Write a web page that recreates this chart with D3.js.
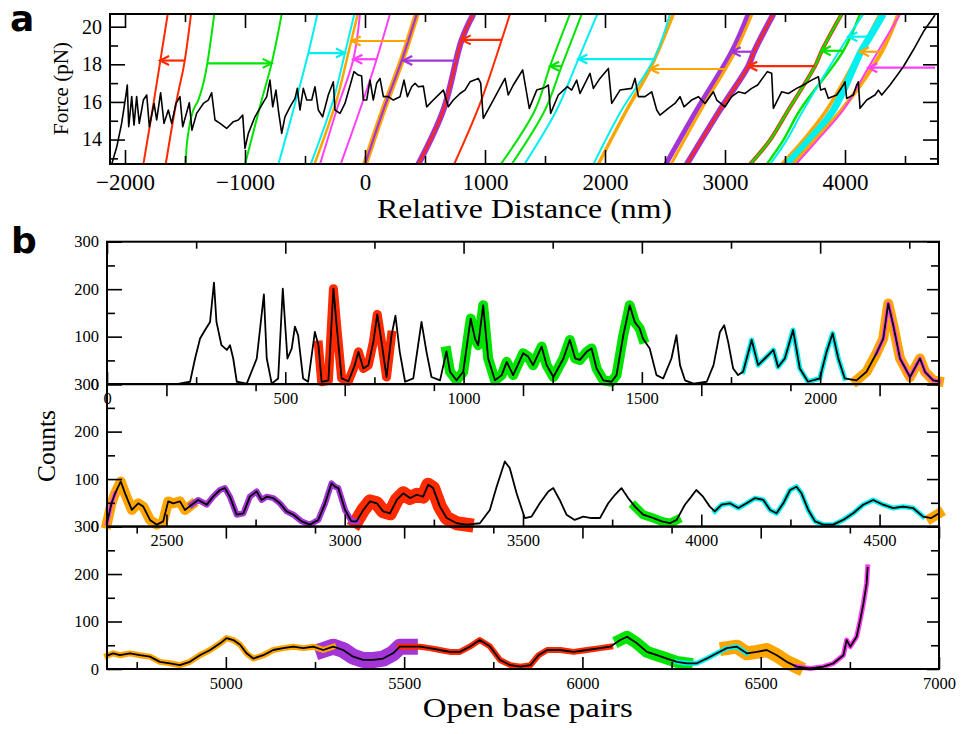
<!DOCTYPE html>
<html>
<head>
<meta charset="utf-8">
<script src="https://cdn.jsdelivr.net/npm/d3@7"></script>
<style>
    html, body { margin: 0; padding: 0; background: #fff; }
</style>
</head>
<body>
<svg id="chart" width="962" height="734"></svg>
<script>
// ---- panel a: force vs relative distance ----
// [distance nm, force pN]
var forceTrace = [[-2111,12.68],[-2069,13.6],[-2028,14.86],[-1992,16.37],[-1981,16.9],[-1969,14.68],[-1944,16.28],[-1925,14.77],[-1903,16.28],[-1881,14.86],[-1847,16.1],[-1819,16.37],[-1797,14.68],[-1758,15.92],[-1736,15.04],[-1703,16.49],[-1675,14.86],[-1639,15.57],[-1611,14.86],[-1575,15.92],[-1542,16.28],[-1519,14.68],[-1464,15.96],[-1442,14.5],[-1403,15.39],[-1347,15.92],[-1306,16.1],[-1278,16.49],[-1250,15.04],[-1208,14.86],[-1153,14.59],[-1097,14.95],[-1056,15.04],[-1019,15.3],[-1000,13.53],[-972,14.33],[-917,15.21],[-861,15.83],[-819,16.28],[-792,17.16],[-769,15.74],[-742,16.63],[-722,15.57],[-694,14.33],[-667,15.21],[-625,15.74],[-583,16.19],[-564,16.72],[-542,15.57],[-514,16.72],[-486,16.1],[-444,16.1],[-417,16.81],[-389,15.57],[-353,15.21],[-306,16.37],[-264,17.07],[-250,15.57],[-208,15.39],[-167,15.92],[-119,16.99],[-92,17.61],[-56,17.43],[-28,17.38],[-14,16.1],[14,16.1],[42,17.16],[69,16.1],[97,16.99],[125,17.25],[153,16.28],[194,16.28],[236,16.1],[292,16.28],[325,17.16],[353,16.28],[389,16.81],[417,16.99],[444,16.81],[486,16.84],[514,15.74],[569,16.1],[653,16.63],[694,15.74],[736,16.1],[792,16.45],[833,16.63],[875,17.07],[944,17.25],[964,17.0],[986,15.12],[1069,16.1],[1167,17.25],[1194,16.37],[1236,16.9],[1314,17.7],[1369,15.66],[1431,16.63],[1500,16.77],[1528,16.9],[1547,15.39],[1611,16.37],[1686,16.81],[1722,16.63],[1764,17.16],[1792,16.45],[1875,17.52],[1903,16.72],[1958,17.25],[2028,17.78],[2056,15.92],[2125,16.63],[2222,16.72],[2250,17.25],[2278,16.28],[2333,16.28],[2389,16.54],[2431,15.57],[2458,15.3],[2528,15.66],[2583,15.92],[2625,16.28],[2658,15.74],[2722,16.1],[2778,16.28],[2833,15.92],[2903,16.54],[2931,16.1],[3000,15.74],[3056,16.28],[3111,16.54],[3167,16.45],[3222,16.72],[3272,16.9],[3353,17.61],[3389,17.52],[3403,15.66],[3472,16.54],[3528,16.45],[3597,16.72],[3653,16.9],[3722,17.16],[3778,17.34],[3797,16.63],[3833,16.72],[3861,16.19],[3931,16.37],[3986,16.9],[4000,17.07],[4014,16.19],[4069,16.37],[4097,16.9],[4111,17.07],[4125,15.66],[4181,16.1],[4250,16.37],[4278,16.63],[4306,16.37],[4375,16.9],[4486,17.87],[4569,18.76],[4653,19.73],[4750,20.62]];

// stretching curves, each [distance nm, force pN]
var stretchCurves = [
    [[-1847,12.68],[-1758,16.1],[-1644,20.67]],
    [[-1661,12.68],[-1569,16.1],[-1506,18.05],[-1450,20.67]],
    [[-1494,12.68],[-1481,13.97],[-1431,15.57],[-1389,16.1],[-1347,16.99],[-1314,18.05],[-1256,20.67]],
    [[-1000,12.68],[-861,16.1],[-778,18.05],[-694,20.67]],
    [[-722,12.68],[-597,15.57],[-472,18.6],[-397,20.67]],
    [[-453,12.68],[-264,16.1],[-167,18.6],[-89,20.67]],
    [[-422,12.68],[-236,16.1],[-139,18.6],[-61,20.67]],
    [[-375,12.68],[-236,15.57],[-97,18.27],[-42,20.67]],
    [[-203,12.68],[-14,16.1],[97,18.27],[208,20.67]],
    [[0,12.68],[153,15.57],[306,18.2],[431,20.67]],
    [[444,12.68],[653,15.57],[806,19.3],[903,20.67]],
    [[742,12.68],[958,15.9],[1139,19.3],[1208,20.67]],
    [[1131,12.68],[1417,15.57],[1542,17.9],[1708,20.67]],
    [[1222,12.68],[1500,15.57],[1639,17.9],[1806,20.67]],
    [[1328,12.68],[1597,15.57],[1778,18.28],[1936,20.67]],
    [[1944,12.68],[2181,15.57],[2375,17.75],[2569,20.67]],
    [[1903,12.68],[2139,15.57],[2408,18.28],[2542,20.67]],
    [[2506,12.68],[2764,15.57],[3056,18.67],[3194,20.67]],
    [[2550,12.68],[2800,15.57],[3085,18.67],[3225,20.67]],
    [[2681,12.68],[2958,15.57],[3194,17.9],[3242,18.67],[3403,20.67]],
    [[3208,12.68],[3375,13.97],[3528,15.57],[3750,17.9],[3806,18.72],[3972,20.67]],
    [[3347,12.68],[3486,13.97],[3625,15.57],[3986,18.72],[4125,20.67]],
    [[3375,12.68],[3514,13.97],[3653,15.57],[4028,19.47],[4153,20.67]],
    [[3472,12.68],[3653,13.97],[3847,15.57],[4125,18.67],[4292,20.67]],
    [[3514,12.68],[3700,13.97],[3903,15.57],[4133,18.67],[4208,19.47],[4319,20.67]],
    [[3569,12.68],[3750,13.97],[3972,15.57],[4306,18.67],[4444,20.67]],
    [[3590,12.68],[3770,13.97],[3985,15.57],[4194,17.82],[4460,20.67]]
];

// arrows: force level, start distance, end distance
var arrowForce = [18.2, 18.05, 18.6, 19.24, 18.27, 18.2, 19.3, 17.9, 18.28, 17.75, 18.67, 17.9, 18.72, 19.47, 18.67, 17.82];
var arrowFrom = [-1506, -1314, -472, 353, 97, 764, 1139, 1639, 2408, 3000, 3242, 3750, 3986, 4208, 4306, 4750];
var arrowTo = [-1708, -778, -167, -111, -97, 319, 806, 1542, 1778, 2375, 3056, 3194, 3806, 4028, 4125, 4194];

var distTicks = [-2000, -1000, 0, 1000, 2000, 3000, 4000];
var forceTicks = [14, 16, 18, 20];

// ---- panel b: counts vs open base pairs ----
var openBp = [0,195,233,247,261,275,289,300,307,321,336,345,354,364,392,420,440,448,462,480,493,506,518,527,536,550,564,583,593,602,621,635,644,658,677,695,705,719,733,747,758,770,784,798,809,821,836,859,882,896,910,934,952,962,980,999,1020,1032,1041,1055,1069,1088,1107,1121,1139,1167,1181,1195,1219,1233,1252,1280,1298,1313,1326,1345,1359,1373,1392,1415,1429,1448,1466,1480,1494,1503,1522,1541,1560,1583,1597,1607,1621,1645,1682,1701,1719,1731,1742,1756,1770,1784,1808,1826,1845,1869,1882,1901,1924,1943,1966,1999,2018,2035,2051,2069,2102,2130,2158,2177,2191,2205,2224,2252,2280,2294,2317,2333,
    2346,2356,2372,2384,2403,2421,2435,2454,2473,2491,2505,2519,2538,2552,2571,2589,2613,2631,2650,2664,2678,2697,2716,2734,2753,2767,2781,2800,2818,2837,2856,2879,2902,2926,2945,2963,2973,2982,3001,3019,3033,3052,3071,3090,3108,3127,3146,3164,3183,3202,3220,3234,3248,3267,3286,3314,3342,3379,3407,3426,3449,3463,3482,3505,3524,3547,3571,3585,3603,3622,3645,3669,3692,3716,3739,3758,3776,3795,3814,3837,3865,3889,3912,3931,3954,3972,3986,4005,4024,4038,4057,4080,4104,4127,4151,4174,4193,4211,4230,4249,4267,4281,4300,4319,4342,4370,4398,4426,4454,4482,4510,4538,4566,4594,4622,4645,4667,
    4684,4703,4731,4759,4787,4815,4843,4871,4899,4927,4956,4984,5002,5021,5040,5058,5077,5105,5133,5161,5189,5217,5245,5273,5301,5329,5357,5385,5413,5441,5469,5488,5516,5544,5572,5600,5628,5656,5684,5712,5740,5769,5798,5826,5854,5877,5901,5938,5975,6013,6050,6078,6106,6125,6153,6181,6209,6237,6265,6293,6321,6349,6377,6405,6433,6461,6489,6517,6545,6573,6601,6639,6676,6704,6732,6741,6751,6769,6779,6788,6797,6800];
var counts = [0,0,5,54,96,114,131,214,131,82,72,82,54,5,1,54,189,54,1,12,201,54,75,121,103,12,5,110,82,5,8,201,124,12,6,40,68,33,40,89,147,89,15,103,144,68,5,12,131,68,15,8,69,26,8,26,138,96,82,166,54,8,19,47,19,65,58,40,79,40,15,54,93,54,51,68,75,33,8,5,19,103,166,131,117,96,75,19,12,54,103,40,8,1,5,40,110,124,89,33,19,26,93,40,54,72,36,54,114,33,5,12,68,107,54,12,8,26,65,96,170,124,54,15,54,26,8,6,
    49,70,95,70,35,49,42,14,4,11,53,49,53,35,46,56,46,63,77,81,63,25,28,63,74,56,63,60,49,32,25,11,4,14,49,91,84,81,35,11,11,35,53,49,32,28,56,70,60,67,63,88,81,42,18,7,4,7,35,84,137,123,70,18,21,49,74,81,56,25,14,21,18,18,49,67,81,60,42,25,18,11,7,14,46,63,77,63,42,32,46,49,39,49,60,56,35,28,49,77,84,70,35,11,4,4,14,28,46,56,46,39,42,39,21,18,28,
    33,29,33,29,26,15,12,8,15,29,40,54,65,61,51,33,22,29,40,44,47,44,47,40,47,40,26,19,19,22,33,47,47,47,44,40,36,36,47,61,48,19,8,5,8,29,40,40,36,40,44,47,61,68,54,36,29,22,15,12,12,22,33,44,47,33,36,40,29,15,5,1,5,12,29,61,47,68,103,138,180,215];

// highlighted stretches (open base pairs)
var segStart = [2093, 5273, 3033, 6401, 6082, 952, 593, 4645, 4667, 3814, 5488, 2571, 1784, 4038, 6265, 2158, 6583];
var segEnd = [2585, 5521, 3370, 6611, 6293, 1503, 800, 4667, 5320, 3931, 6100, 3043, 2083, 4640, 6461, 2356, 6800];

var rowBounds = [0, 7000 / 3, 14000 / 3, 7000];
var countTicks = [0, 100, 200, 300];

(function () {
    'use strict';

    var serif = "'Liberation Serif', 'Times New Roman', Times, serif";
    var red = '#ff2a00', green = '#00e400', cyan = '#00f0f0', orange = '#ffa500', magenta = '#ff40f6', purple = '#a334d6';

    var curveColor = [red, red, green, green, cyan, cyan, orange, magenta, magenta, orange, purple, red, green, green, cyan, orange, cyan, purple, orange, purple, red, green, cyan, orange, cyan, orange, magenta];
    var curveWidth = [2, 2, 2, 2, 2, 2, 2.5, 2, 2, 6, 6, 2, 2, 2, 2, 3.5, 2, 5, 3, 6, 4, 2.5, 2, 3.5, 7, 4, 2];
    var curveInner = {9: purple, 10: red, 19: red, 20: green};
    var arrowColor = [red, green, cyan, orange, magenta, purple, red, green, cyan, orange, purple, red, green, cyan, orange, magenta];

    var segColor = [orange, purple, red, orange, green, green, red, orange, orange, green, red, purple, cyan, cyan, cyan, magenta, magenta];
    var segWidth = [10, 16, 14, 14, 12, 10, 9, 10, 6, 9, 6, 6, 5, 5, 5, 4, 5];

    var svg = d3.select('#chart');

    drawPanelA();
    drawPanelB();

    function addTicks(g, axisFn, scale, values, size, labels, padding, fontSize) {
        var axis = axisFn(scale).tickValues(values).tickSizeInner(-size).tickSizeOuter(0).tickPadding(padding || 0);
        axis.tickFormat(labels ? d3.format('d') : '');
        g.call(axis);
        g.attr('font-family', null).attr('font-size', null);
        g.select('.domain').remove();
        g.selectAll('.tick line').attr('stroke', '#000').attr('stroke-width', 1.6);
        g.selectAll('.tick text').attr('fill', '#000')
            .style('font-family', serif).style('font-size', fontSize + 'px');
    }

    function label(g, text, size) {
        return g.append('text').text(text).attr('fill', '#000')
            .style('font-family', serif).style('font-size', size + 'px');
    }

    function drawPanelA() {
        var left = 110, right = 938, top = 14, bottom = 164;
        var x = d3.scaleLinear().domain([-2125, 4775]).range([left, right]);
        var y = d3.scaleLinear().domain([12.7, 20.675]).range([bottom, top]);
        var g = svg.append('g');

        g.append('clipPath').attr('id', 'clipA')
            .append('rect').attr('x', left).attr('y', top).attr('width', right - left).attr('height', bottom - top);

        var plot = g.append('g').attr('clip-path', 'url(#clipA)');
        var line = d3.line().x(function (d) { return x(d[0]); }).y(function (d) { return y(d[1]); });
        var smooth = d3.line().x(function (d) { return x(d[0]); }).y(function (d) { return y(d[1]); })
            .curve(d3.curveCatmullRom.alpha(0.5));

        stretchCurves.forEach(function (pts, i) {
            plot.append('path').attr('d', smooth(pts)).attr('fill', 'none')
                .attr('stroke', curveColor[i]).attr('stroke-width', curveWidth[i]);
            if (curveInner[i]) {
                plot.append('path').attr('d', smooth(pts)).attr('fill', 'none')
                    .attr('stroke', curveInner[i]).attr('stroke-width', 2.2);
            }
        });

        arrowForce.forEach(function (f, i) {
            var yy = y(f), x0 = x(arrowFrom[i]), x1 = x(arrowTo[i]);
            var dir = x1 < x0 ? 1 : -1;
            plot.append('line').attr('x1', x0).attr('x2', x1).attr('y1', yy).attr('y2', yy)
                .attr('stroke', arrowColor[i]).attr('stroke-width', 2.2);
            plot.append('path')
                .attr('d', 'M' + (x1 + dir * 9) + ',' + (yy - 4.5) + 'L' + x1 + ',' + yy + 'L' + (x1 + dir * 9) + ',' + (yy + 4.5))
                .attr('fill', 'none').attr('stroke', arrowColor[i]).attr('stroke-width', 2.2);
        });

        plot.append('path').attr('d', line(forceTrace)).attr('fill', 'none')
            .attr('stroke', '#000').attr('stroke-width', 1.6).attr('stroke-linejoin', 'round');

        var minorX = d3.range(-2000, 4800, 500).filter(function (v) { return v % 1000 !== 0; });
        var minorY = [13, 15, 17, 19];

        addTicks(g.append('g').attr('transform', 'translate(0,' + bottom + ')'), d3.axisBottom, x, distTicks, 14, true, 10, 23);
        addTicks(g.append('g').attr('transform', 'translate(0,' + bottom + ')'), d3.axisBottom, x, minorX, 8);
        addTicks(g.append('g').attr('transform', 'translate(0,' + top + ')'), d3.axisTop, x, distTicks, 14);
        addTicks(g.append('g').attr('transform', 'translate(0,' + top + ')'), d3.axisTop, x, minorX, 8);
        addTicks(g.append('g').attr('transform', 'translate(' + left + ',0)'), d3.axisLeft, y, forceTicks, 15, true, 8, 20);
        addTicks(g.append('g').attr('transform', 'translate(' + left + ',0)'), d3.axisLeft, y, minorY, 8);
        addTicks(g.append('g').attr('transform', 'translate(' + right + ',0)'), d3.axisRight, y, forceTicks, 15);
        addTicks(g.append('g').attr('transform', 'translate(' + right + ',0)'), d3.axisRight, y, minorY, 8);

        g.append('rect').attr('x', left).attr('y', top).attr('width', right - left).attr('height', bottom - top)
            .attr('fill', 'none').attr('stroke', '#000').attr('stroke-width', 2);

        label(g, 'Relative Distance (nm)', 27).attr('x', 524.5).attr('y', 218).attr('text-anchor', 'middle')
            .attr('textLength', 295).attr('lengthAdjust', 'spacingAndGlyphs');
        label(g, 'Force (pN)', 20).attr('transform', 'translate(68,88.5) rotate(-90)').attr('text-anchor', 'middle')
            .attr('textLength', 93).attr('lengthAdjust', 'spacingAndGlyphs');
        g.append('text').attr('x', 10).attr('y', 31).attr('fill', '#000').text('a')
            .style('font-family', "'DejaVu Sans', sans-serif").style('font-size', '36px').style('font-weight', 'bold');
    }

    function drawPanelB() {
        var left = 107, right = 939, top = 241.7, rowH = 142.43;
        var g = svg.append('g');
        var pts = openBp.map(function (bp, i) { return [bp, counts[i]]; });

        for (var r = 0; r < 3; r++) {
            drawRow(r);
        }

        function drawRow(r) {
            var lo = rowBounds[r], hi = rowBounds[r + 1];
            var y0 = top + r * rowH, y1 = y0 + rowH;
            var x = d3.scaleLinear().domain([lo, hi]).range([left, right]);
            var y = d3.scaleLinear().domain([0, 300]).range([y1, y0]);
            var rg = g.append('g');
            var line = d3.line().x(function (d) { return x(d[0]); }).y(function (d) { return y(d[1]); });
            var rowPts = pts.filter(function (d) { return d[0] >= lo - 1 && d[0] <= hi + 1; });

            segStart.forEach(function (s, i) {
                var sub = rowPts.filter(function (d) { return d[0] >= s && d[0] <= segEnd[i]; });
                if (sub.length < 2) {
                    return;
                }
                rg.append('path').attr('d', line(sub)).attr('fill', 'none')
                    .attr('stroke', segColor[i]).attr('stroke-width', segWidth[i])
                    .attr('stroke-linejoin', 'round').attr('stroke-linecap', 'square');
            });

            rg.append('path').attr('d', line(rowPts)).attr('fill', 'none')
                .attr('stroke', '#000').attr('stroke-width', 1.8).attr('stroke-linejoin', 'round');

            var majorX = x.ticks(5).filter(function (v) { return v % 500 === 0; });
            var minorX = d3.range(Math.ceil(lo / 250) * 250, hi + 1, 250).filter(function (v) { return v % 500 !== 0; });
            var minorY = [50, 150, 250];

            addTicks(rg.append('g').attr('transform', 'translate(0,' + y1 + ')'), d3.axisBottom, x, majorX, 12, true, 8, 16.5);
            addTicks(rg.append('g').attr('transform', 'translate(0,' + y1 + ')'), d3.axisBottom, x, minorX, 7);
            addTicks(rg.append('g').attr('transform', 'translate(0,' + y0 + ')'), d3.axisTop, x, majorX, 12);
            addTicks(rg.append('g').attr('transform', 'translate(0,' + y0 + ')'), d3.axisTop, x, minorX, 7);
            addTicks(rg.append('g').attr('transform', 'translate(' + left + ',0)'), d3.axisLeft, y, countTicks, 15, true, 8, 16.5);
            addTicks(rg.append('g').attr('transform', 'translate(' + left + ',0)'), d3.axisLeft, y, minorY, 8);
            addTicks(rg.append('g').attr('transform', 'translate(' + right + ',0)'), d3.axisRight, y, countTicks, 12);
            addTicks(rg.append('g').attr('transform', 'translate(' + right + ',0)'), d3.axisRight, y, minorY, 8);

            rg.append('rect').attr('x', left).attr('y', y0).attr('width', right - left).attr('height', rowH)
                .attr('fill', 'none').attr('stroke', '#000').attr('stroke-width', 2);
        }

        label(g, 'Open base pairs', 27).attr('x', 527.8).attr('y', 717).attr('text-anchor', 'middle')
            .attr('textLength', 210).attr('lengthAdjust', 'spacingAndGlyphs');
        label(g, 'Counts', 25).attr('transform', 'translate(55,446) rotate(-90)').attr('text-anchor', 'middle')
            .attr('textLength', 72).attr('lengthAdjust', 'spacingAndGlyphs');
        g.append('text').attr('x', 11).attr('y', 253).attr('fill', '#000').text('b')
            .style('font-family', "'DejaVu Sans', sans-serif").style('font-size', '36px').style('font-weight', 'bold');
    }
})();
</script>
</body>
</html>
